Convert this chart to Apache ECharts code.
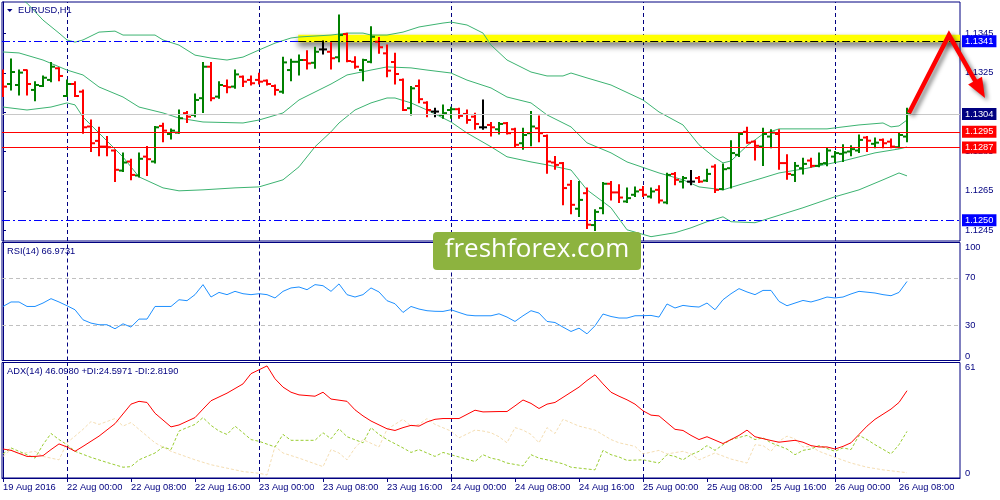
<!DOCTYPE html>
<html><head><meta charset="utf-8">
<script src="https://cdn.jsdelivr.net/npm/echarts@6/dist/echarts.min.js"></script>
<style>html,body{margin:0;padding:0;background:#fff}#c{width:1000px;height:500px}</style>
</head><body><div id="c"></div>
<script>
// ---------- data ----------
const timeLabels = ['19 Aug 2016','22 Aug 00:00','22 Aug 08:00','22 Aug 16:00','23 Aug 00:00','23 Aug 08:00','23 Aug 16:00','24 Aug 00:00','24 Aug 08:00','24 Aug 16:00','25 Aug 00:00','25 Aug 08:00','25 Aug 16:00','26 Aug 00:00','26 Aug 08:00'];
const labelIdx = [0,8,16,24,32,40,48,56,64,72,80,88,96,104,112];
const separators = [8,32,56,80,104];

const open = [1.13239,1.13193,1.13188,1.13264,1.13163,1.13183,1.13214,1.13273,1.13132,1.13193,
1.13154,1.12977,1.12904,1.12875,1.12855,1.12753,1.12799,1.12728,1.12824,1.12799,
1.12980,1.12939,1.12946,1.13045,1.13036,1.13121,1.13281,1.13129,1.13183,1.13180,
1.13230,1.13214,1.13214,1.13210,1.13183,1.13154,1.13264,1.13306,1.13315,1.13301,
1.13369,1.13357,1.13329,1.13447,1.13306,1.13264,1.13306,1.13408,1.13349,1.13305,
1.13214,1.13070,1.13183,1.13098,1.13053,1.13036,1.13061,1.13065,1.13041,1.13027,
1.12973,1.12985,1.12963,1.12994,1.12963,1.12892,1.12943,1.12968,1.12929,1.12794,
1.12791,1.12681,1.12559,1.12638,1.12476,1.12562,1.12686,1.12642,1.12596,1.12630,
1.12655,1.12621,1.12655,1.12591,1.12736,1.12697,1.12697,1.12715,1.12702,1.12773,
1.12659,1.12765,1.12833,1.12950,1.12900,1.12875,1.12926,1.12939,1.12791,1.12731,
1.12765,1.12804,1.12777,1.12791,1.12824,1.12838,1.12850,1.12855,1.12921,1.12889,
1.12909,1.12900,1.12872,1.12926];
const high = [1.13264,1.13320,1.13264,1.13264,1.13205,1.13234,1.13303,1.13276,1.13214,1.13205,
1.13163,1.13010,1.12973,1.12926,1.12858,1.12842,1.12811,1.12842,1.12875,1.12977,
1.12994,1.12965,1.13061,1.13053,1.13142,1.13303,1.13303,1.13205,1.13214,1.13264,
1.13234,1.13234,1.13248,1.13214,1.13188,1.13329,1.13319,1.13340,1.13362,1.13380,
1.13412,1.13403,1.13544,1.13451,1.13332,1.13319,1.13484,1.13430,1.13391,1.13349,
1.13218,1.13180,1.13214,1.13103,1.13070,1.13087,1.13075,1.13070,1.13061,1.13045,
1.13112,1.12997,1.12997,1.12997,1.12968,1.12968,1.13053,1.13031,1.12934,1.12824,
1.12794,1.12702,1.12697,1.12664,1.12554,1.12692,1.12697,1.12681,1.12664,1.12669,
1.12672,1.12664,1.12676,1.12740,1.12743,1.12723,1.12753,1.12723,1.12760,1.12782,
1.12787,1.12905,1.12943,1.12973,1.12905,1.12968,1.12960,1.12960,1.12833,1.12794,
1.12816,1.12816,1.12842,1.12869,1.12850,1.12884,1.12879,1.12934,1.12926,1.12918,
1.12913,1.12913,1.12943,1.13070];
const low = [1.13129,1.13163,1.13137,1.13137,1.13108,1.13180,1.13205,1.13210,1.13129,1.13129,
1.12943,1.12850,1.12829,1.12829,1.12697,1.12748,1.12706,1.12720,1.12728,1.12791,
1.12900,1.12913,1.12943,1.12997,1.13027,1.13048,1.13108,1.13121,1.13149,1.13171,
1.13180,1.13188,1.13193,1.13188,1.13137,1.13146,1.13210,1.13239,1.13269,1.13273,
1.13346,1.13269,1.13306,1.13306,1.13273,1.13210,1.13301,1.13349,1.13230,1.13193,
1.13058,1.13036,1.13098,1.13027,1.13027,1.13019,1.13019,1.13019,1.12994,1.12963,
1.12963,1.12929,1.12939,1.12939,1.12872,1.12862,1.12879,1.12900,1.12740,1.12760,
1.12579,1.12533,1.12520,1.12458,1.12449,1.12533,1.12604,1.12591,1.12591,1.12621,
1.12621,1.12613,1.12588,1.12584,1.12681,1.12664,1.12681,1.12692,1.12697,1.12642,
1.12655,1.12664,1.12824,1.12892,1.12807,1.12779,1.12869,1.12760,1.12709,1.12697,
1.12736,1.12770,1.12773,1.12777,1.12794,1.12799,1.12828,1.12845,1.12850,1.12869,
1.12869,1.12869,1.12869,1.12900];
const close = [1.13180,1.13254,1.13251,1.13193,1.13188,1.13225,1.13281,1.13234,1.13193,1.13132,
1.12973,1.12892,1.12875,1.12872,1.12757,1.12794,1.12731,1.12813,1.12811,1.12973,
1.12956,1.12956,1.13019,1.13027,1.13112,1.13281,1.13121,1.13188,1.13177,1.13242,
1.13205,1.13197,1.13205,1.13193,1.13163,1.13303,1.13306,1.13315,1.13298,1.13357,
1.13369,1.13324,1.13442,1.13310,1.13281,1.13315,1.13433,1.13380,1.13261,1.13244,
1.13061,1.13171,1.13116,1.13061,1.13053,1.13045,1.13065,1.13031,1.13010,1.12990,
1.12973,1.12973,1.12990,1.12943,1.12884,1.12934,1.12977,1.12943,1.12799,1.12782,
1.12664,1.12579,1.12604,1.12478,1.12543,1.12686,1.12642,1.12616,1.12613,1.12647,
1.12630,1.12647,1.12601,1.12731,1.12706,1.12715,1.12697,1.12697,1.12736,1.12655,
1.12760,1.12842,1.12939,1.12895,1.12879,1.12939,1.12946,1.12791,1.12736,1.12777,
1.12787,1.12777,1.12787,1.12855,1.12842,1.12845,1.12862,1.12909,1.12905,1.12895,
1.12892,1.12875,1.12934,1.13040];

// Bollinger bands [bar index, price]
const bbUpper = [[0,1.13706],[3,1.13604],[5,1.13518],[7,1.13452],[8,1.13417],[9,1.13406],[10,1.13417],[12,1.13457],[14,1.13462],[15,1.13442],[19,1.13442],[20,1.13417],[22,1.13391],[24,1.13340],[26,1.13325],[28,1.13315],[30,1.13330],[32,1.13366],[34,1.13401],[36,1.13427],[37,1.13432],[41,1.13442],[43,1.13452],[45,1.13452],[46,1.13442],[48,1.13442],[50,1.13457],[52,1.13483],[55,1.13503],[56,1.13508],[58,1.13493],[60,1.13452],[61,1.13391],[63,1.13315],[66,1.13254],[68,1.13234],[70,1.13234],[71,1.13249],[73,1.13224],[76,1.13188],[80,1.13112],[82,1.13051],[85,1.12985],[87,1.12884],[89,1.12818],[90,1.12792],[91,1.12802],[93,1.12879],[95,1.12939],[97,1.12965],[103,1.12965],[107,1.12985],[110,1.12995],[111,1.12975],[112,1.12980],[113,1.13010]];
const bbMiddle = [[0,1.13356],[2,1.13351],[5,1.13315],[8,1.13264],[10,1.13239],[12,1.13178],[15,1.13127],[17,1.13076],[20,1.13046],[22,1.13020],[25,1.13000],[30,1.12995],[32,1.13010],[35,1.13046],[37,1.13112],[41,1.13193],[43,1.13239],[46,1.13264],[48,1.13280],[51,1.13275],[53,1.13264],[56,1.13249],[58,1.13213],[61,1.13173],[63,1.13127],[66,1.13097],[68,1.13036],[71,1.12975],[73,1.12894],[76,1.12843],[78,1.12797],[82,1.12741],[85,1.12706],[87,1.12670],[90,1.12655],[92,1.12680],[95,1.12716],[97,1.12741],[100,1.12761],[105,1.12802],[109,1.12843],[112,1.12863],[113,1.12873]];
const bbLower = [[0,1.13076],[3,1.13061],[6,1.13076],[8,1.13097],[9,1.13087],[10,1.13025],[12,1.12944],[15,1.12822],[17,1.12721],[20,1.12665],[22,1.12650],[25,1.12655],[29,1.12665],[32,1.12670],[35,1.12706],[37,1.12772],[39,1.12874],[41,1.12950],[42,1.12995],[44,1.13061],[46,1.13097],[48,1.13122],[49,1.13122],[51,1.13097],[53,1.13061],[56,1.13000],[58,1.12944],[61,1.12874],[63,1.12823],[66,1.12797],[68,1.12782],[71,1.12756],[73,1.12655],[76,1.12564],[78,1.12452],[81,1.12417],[84,1.12437],[86,1.12462],[88,1.12493],[90,1.12518],[91,1.12493],[94,1.12488],[96,1.12513],[100,1.12564],[104,1.12620],[107,1.12655],[110,1.12706],[112,1.12741],[113,1.12726]];

const rsi = [45.8,49.6,49.6,45.8,45.8,48.7,52.4,49.6,46.4,43.0,
34.5,31.7,30.3,30.3,26.9,31.1,28.3,35.1,35.1,45.8,
45.8,45.8,51.5,50.7,55.8,64.3,53.8,57.7,55.8,58.6,
56.6,55.8,56.6,55.8,53.0,58.6,61.5,62.3,60.0,64.3,
63.4,58.6,64.9,55.8,53.8,55.8,61.5,58.1,50.7,48.1,
40.7,45.8,43.6,42.2,41.7,41.6,43.0,40.7,38.5,37.9,
37.9,37.9,39.6,36.8,33.1,37.9,42.2,40.2,33.1,32.2,
28.3,24.6,27.4,22.6,29.4,39.4,37.3,36.0,36.0,37.9,
38.0,38.2,36.8,47.9,44.5,46.7,45.8,45.3,48.7,43.0,
51.5,56.6,60.9,58.1,55.8,59.4,59.4,50.1,46.4,48.7,
50.9,49.6,51.5,53.8,53.0,53.8,56.4,58.6,57.9,57.2,
55.8,54.9,57.7,66.97];

const adx = [[0,15.3],[1,14.6],[3,11.4],[4,11.4],[5,11.8],[6,15.0],[7,18.0],[8,16.4],[9,14.1],[10,16.7],[12,22.1],[14,28.7],[16,39.0],[17,40.5],[18,39.9],[19,34.2],[21,27.0],[22,28.0],[24,31.9],[25,36.4],[26,40.8],[28,44.8],[30,49.7],[31,55.1],[33,59.2],[34,52.4],[35,48.0],[36,45.3],[37,43.9],[39,43.2],[40,45.3],[41,41.7],[43,40.5],[44,36.0],[45,32.8],[46,30.1],[48,26.0],[49,25.1],[50,26.6],[51,27.8],[52,27.4],[53,29.6],[54,31.0],[55,31.4],[57,31.4],[59,35.8],[60,34.9],[62,35.1],[63,35.1],[64,38.1],[65,41.2],[66,39.4],[67,36.7],[68,39.0],[69,39.9],[70,42.6],[71,45.3],[72,48.0],[73,51.5],[74,54.5],[75,49.7],[76,45.3],[77,43.2],[78,41.3],[79,39.0],[80,35.5],[81,33.2],[82,32.8],[84,25.7],[85,25.1],[86,22.5],[87,20.3],[88,21.8],[90,18.2],[91,20.3],[92,22.5],[93,25.3],[94,21.8],[96,19.8],[97,18.9],[99,19.9],[100,18.9],[101,17.1],[102,16.4],[103,16.4],[104,15.3],[105,16.7],[106,18.6],[107,23.0],[108,27.4],[109,31.0],[111,36.4],[112,39.9],[113,46.1]];
const plusDI = [[0,12.7],[1,15.9],[2,14.1],[4,10.5],[5,17.6],[6,23.5],[7,20.3],[8,17.6],[9,14.1],[11,10.9],[13,8.2],[15,5.7],[16,6.0],[17,9.6],[19,13.2],[20,16.4],[21,15.0],[22,24.8],[23,26.6],[24,28.3],[25,31.9],[26,27.8],[27,24.8],[28,23.0],[29,27.4],[30,23.9],[31,20.3],[32,19.4],[34,16.4],[35,23.0],[36,19.9],[39,19.9],[40,23.9],[41,20.7],[42,26.0],[43,21.8],[45,18.6],[46,26.6],[47,23.0],[48,20.3],[50,15.9],[51,13.5],[52,15.0],[54,11.4],[55,13.5],[56,12.3],[57,11.1],[59,8.7],[60,12.3],[61,10.5],[62,9.6],[63,7.9],[65,6.4],[66,12.3],[67,10.5],[68,9.6],[70,7.5],[71,5.7],[74,4.3],[75,14.6],[76,12.3],[77,11.1],[78,9.3],[80,9.6],[82,7.9],[83,12.3],[84,11.4],[85,9.6],[86,12.3],[87,14.1],[88,17.1],[89,14.6],[90,17.6],[91,20.3],[93,22.5],[94,20.3],[95,21.2],[96,18.6],[98,15.3],[99,12.3],[100,14.6],[101,15.3],[102,17.1],[104,14.1],[105,15.9],[106,15.0],[107,22.5],[108,20.3],[109,17.6],[111,12.7],[112,17.6],[113,24.6]];
const minusDI = [[0,11.4],[1,15.0],[2,12.7],[4,14.1],[5,11.4],[7,9.6],[8,18.6],[9,22.1],[10,25.7],[11,29.8],[12,28.3],[14,31.4],[15,27.4],[16,29.3],[17,25.7],[19,18.6],[21,14.1],[24,9.6],[26,7.0],[29,4.3],[30,3.4],[32,2.5],[33,1.6],[34,16.7],[35,13.2],[37,10.5],[40,6.0],[41,15.0],[42,13.2],[43,9.6],[44,15.9],[45,20.3],[47,16.4],[48,25.7],[50,31.0],[51,27.4],[52,28.3],[53,31.4],[54,28.3],[56,24.8],[57,21.2],[59,25.3],[60,24.8],[61,23.9],[62,21.8],[63,18.6],[64,26.6],[65,25.3],[66,23.0],[67,18.6],[68,26.6],[69,23.5],[70,31.0],[72,27.4],[74,25.3],[76,20.3],[77,18.6],[79,16.7],[80,12.7],[82,14.6],[83,12.7],[85,14.1],[86,12.7],[87,9.6],[89,13.2],[91,10.0],[93,7.9],[94,17.6],[95,17.1],[96,14.1],[97,19.4],[98,22.1],[99,20.7],[100,16.4],[101,16.7],[102,14.1],[104,10.9],[106,7.9],[108,5.7],[110,4.3],[113,2.8]];

const priceTicks = [1.1245,1.1265,1.1285,1.1305,1.1325,1.1345];
const rsiTicks = [0,30,70,100];
const adxTicks = [0,61];
const redLevels = [1.1295,1.1287];
const blueLevel = 1.1250;
const bidLevel = 1.1304;
const zoneLevel = 1.1341;       // resistance line
const zoneBand = 1.13425;       // highlighted band
const zoneStart = 36.9;         // bar index where highlight begins
const arrowPath = [[113.25,1.13046],[118.25,1.13442],[122.75,1.13122]];

// ---------- chart ----------
const FONT = '"Liberation Sans", Arial, sans-serif';
const NAVY = '#000080';
const FS = 9.3;
const xMin = -0.125, xMax = 119.625;

const bars = open.map((o,i)=>[i,o,high[i],low[i],close[i]]);

function renderBar(params, api){
  const i = api.value(0), o = api.value(1), h = api.value(2), l = api.value(3), c = api.value(4);
  const color = c > o ? '#008000' : (c < o ? '#ff0000' : '#000000');
  const ph = api.coord([i,h]), pl = api.coord([i,l]), po = api.coord([i,o]), pc = api.coord([i,c]);
  const st = {stroke:color, lineWidth:2};
  return {type:'group', children:[
    {type:'line', shape:{x1:ph[0],y1:ph[1]-0.5,x2:pl[0],y2:pl[1]+0.5}, style:st},
    {type:'line', shape:{x1:po[0]-4,y1:po[1],x2:po[0],y2:po[1]}, style:st},
    {type:'line', shape:{x1:pc[0],y1:pc[1],x2:pc[0]+4,y2:pc[1]}, style:st}
  ]};
}

function renderArrow(params, api){
  const pts = arrowPath.map(p=>api.coord(p));
  const n = pts.length, T = pts[n-1], P = pts[n-2];
  let dx = T[0]-P[0], dy = T[1]-P[1];
  const len = Math.hypot(dx,dy); dx/=len; dy/=len;
  const headL = 20, headW = 8;
  const B = [T[0]-dx*headL, T[1]-dy*headL];
  const shaft = pts.slice(0,n-1).concat([[T[0]-dx*headL*0.7, T[1]-dy*headL*0.7]]);
  const shadow = {shadowColor:'rgba(0,0,0,0.45)', shadowBlur:4, shadowOffsetX:3, shadowOffsetY:3};
  return {type:'group', children:[
    {type:'polyline', shape:{points:shaft}, style:Object.assign({stroke:'#ff0000', lineWidth:4.5, fill:null, lineJoin:'miter'}, shadow)},
    {type:'polygon', shape:{points:[T,[B[0]-dy*headW,B[1]+dx*headW],[B[0]+dy*headW,B[1]-dx*headW]]}, style:Object.assign({fill:'#ff0000'}, shadow)}
  ]};
}

const tag = (bg, txt) => ({show:true, position:'end', distance:2, color:'#fff', backgroundColor:bg,
  padding:[2,3,1,3], fontSize:FS, fontFamily:FONT, formatter: txt});

const sepMark = {silent:true, symbol:['none','none'], z:1, label:{show:false},
  lineStyle:{color:NAVY, type:[4,3], width:1}, data: separators.map(v=>({xAxis:v}))};

const axisText = {fontSize:FS, fontFamily:FONT, color:NAVY};

const yBase = (k, min, max, ticks, fmt, extra) => ({
  type:'value', gridIndex:k, position:'right', min:min, max:max, scale:true,
  splitLine:{show:false},
  axisLine:{show:true, lineStyle:{color:NAVY}},
  axisTick:{show:true, customValues:ticks, length:3, lineStyle:{color:NAVY}},
  axisLabel:Object.assign({customValues:ticks, formatter:fmt, margin:5}, axisText, extra||{})
});

const option = {
  animation:false,
  backgroundColor:'#ffffff',
  grid:[
    {left:2, right:40, top:2, height:239, show:true, borderColor:NAVY, borderWidth:1},
    {left:2, right:40, top:242.5, height:118, show:true, borderColor:NAVY, borderWidth:1},
    {left:2, right:40, top:362.5, height:115.5, show:true, borderColor:NAVY, borderWidth:1}
  ],
  xAxis:[0,1,2].map(k=>({
    type:'value', gridIndex:k, min:xMin, max:xMax, show:k===2,
    splitLine:{show:false},
    axisLine:{show:true, lineStyle:{color:NAVY}},
    axisTick:{show:true, customValues:labelIdx, length:4, lineStyle:{color:NAVY}},
    axisLabel:Object.assign({customValues:labelIdx, align:'left', margin:5,
      formatter:v=>timeLabels[labelIdx.indexOf(Math.round(v))] || ''}, axisText)
  })),
  yAxis:[
    yBase(0, 1.12395, 1.1361, priceTicks, v=>v.toFixed(4)),
    yBase(1, 0, 100, rsiTicks, v=>String(v), {verticalAlignMinLabel:'bottom', verticalAlignMaxLabel:'top'}),
    yBase(2, 0, 61, adxTicks, v=>String(v), {verticalAlignMinLabel:'bottom', verticalAlignMaxLabel:'top'})
  ],
  series:[
    {type:'line', xAxisIndex:0, yAxisIndex:0, data:[[zoneStart,zoneBand],[xMax,zoneBand]], symbol:'none', z:1,
      lineStyle:{color:'#ffff00', width:7.5, cap:'butt', shadowColor:'rgba(0,0,0,0.55)', shadowBlur:6, shadowOffsetY:4}},
    {type:'line', xAxisIndex:0, yAxisIndex:0, data:bbUpper, symbol:'none', z:3,
      lineStyle:{color:'#3cb371', width:1}, markLine:sepMark},
    {type:'line', xAxisIndex:0, yAxisIndex:0, data:bbMiddle, symbol:'none', z:3, lineStyle:{color:'#3cb371', width:1}},
    {type:'line', xAxisIndex:0, yAxisIndex:0, data:bbLower, symbol:'none', z:3, lineStyle:{color:'#3cb371', width:1}},
    {type:'custom', xAxisIndex:0, yAxisIndex:0, data:bars, encode:{x:0, y:[1,2,3,4]}, renderItem:renderBar, z:4, clip:true},
    {type:'line', xAxisIndex:0, yAxisIndex:0, data:[], clip:false, z:5,
      markLine:{silent:true, symbol:['none','none'], z:5, precision:5,
        data:[
          {yAxis:bidLevel, lineStyle:{color:'#c8c8c8', type:'solid', width:1}, label:tag('#000080', bidLevel.toFixed(4))},
          {yAxis:redLevels[0], lineStyle:{color:'#ff0000', type:'solid', width:1.2}, label:tag('#ff0000', redLevels[0].toFixed(4))},
          {yAxis:redLevels[1], lineStyle:{color:'#ff0000', type:'solid', width:1.2}, label:tag('#ff0000', redLevels[1].toFixed(4))},
          {yAxis:blueLevel, lineStyle:{color:'#0000ff', type:[8,3,2,3], width:1}, label:tag('#0000ff', blueLevel.toFixed(4))},
          [{coord:[xMin,zoneLevel], lineStyle:{color:'#0000ff', type:[8,3,2,3], width:1}, label:{show:false}},{coord:[zoneStart,zoneLevel]}],
          [{coord:[zoneStart,zoneLevel], lineStyle:{color:'#000000', type:[8,3,2,3], width:1}, label:tag('#0000ff', zoneLevel.toFixed(4))},{coord:[xMax,zoneLevel]}]
        ]}},
    {type:'custom', xAxisIndex:0, yAxisIndex:0, data:[arrowPath[0]], renderItem:renderArrow, z:6, clip:false},
    {type:'line', xAxisIndex:1, yAxisIndex:1, data:rsi.map((v,i)=>[i,v]), symbol:'none', z:3,
      lineStyle:{color:'#1e90ff', width:1},
      markLine:{silent:true, symbol:['none','none'], z:1, label:{show:false},
        data: separators.map(v=>({xAxis:v, lineStyle:{color:NAVY, type:[4,3], width:1}}))
          .concat([{yAxis:70, lineStyle:{color:'#c0c0c0', type:[4,3], width:1}},{yAxis:30, lineStyle:{color:'#c0c0c0', type:[4,3], width:1}}])}},
    {type:'line', xAxisIndex:2, yAxisIndex:2, data:minusDI, symbol:'none', z:3, lineStyle:{color:'#f5deb3', width:1, type:[3,2]}},
    {type:'line', xAxisIndex:2, yAxisIndex:2, data:plusDI, symbol:'none', z:3, lineStyle:{color:'#9acd32', width:1, type:[3,2]}},
    {type:'line', xAxisIndex:2, yAxisIndex:2, data:adx, symbol:'none', z:4, lineStyle:{color:'#ff0000', width:1}, markLine:sepMark}
  ],
  graphic:[
    {type:'polygon', z:50, shape:{points:[[7,9],[12.5,9],[9.75,12]]}, style:{fill:NAVY}},
    {type:'text', z:50, x:18, y:10.5, style:{text:'EURUSD,H1', font:FS+'px '+FONT, fill:NAVY, verticalAlign:'middle'}},
    {type:'text', z:50, x:7, y:251, style:{text:'RSI(14) 66.9731', font:FS+'px '+FONT, fill:NAVY, verticalAlign:'middle'}},
    {type:'text', z:50, x:7, y:371, style:{text:'ADX(14) 46.0980 +DI:24.5971 -DI:2.8190', font:FS+'px '+FONT, fill:NAVY, verticalAlign:'middle'}},
    {type:'rect', z:100, shape:{x:433, y:232, width:208, height:38, r:4}, style:{fill:'#8db33f'}},
    {type:'text', z:101, x:537, y:250, style:{text:'freshforex.com', font:'26px "Open Sans", sans-serif', fill:'#ffffff', align:'center', verticalAlign:'middle'}}
  ]
};

const chart = echarts.init(document.getElementById('c'), null, {renderer:'canvas'});
chart.setOption(option);
</script>
</body></html>
